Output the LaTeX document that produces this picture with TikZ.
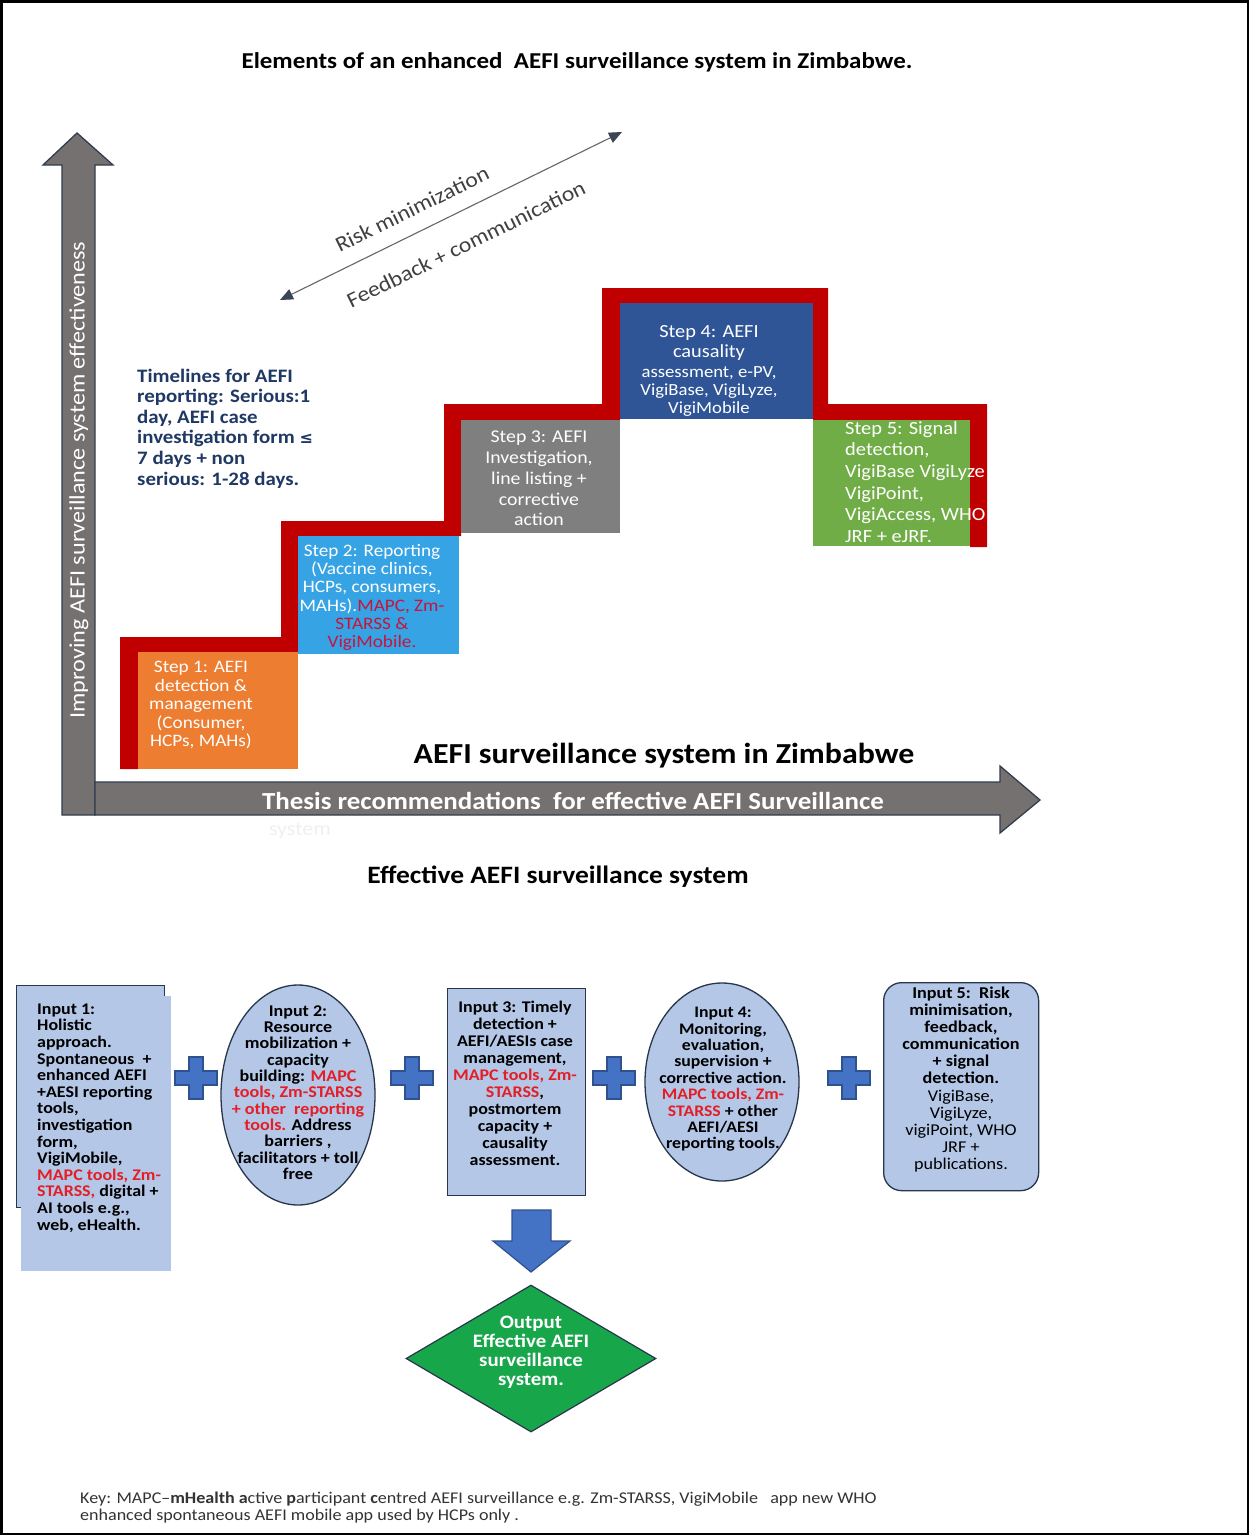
\documentclass[tikz,border=0pt]{standalone}
\usepackage{fontspec}
\setmainfont{Carlito}[FakeStretch=1.1]
\newfontfamily\symfont{DejaVu Sans}
\usetikzlibrary{arrows.meta,shapes.geometric}

\definecolor{axisgray}{HTML}{767171}
\definecolor{axisline}{HTML}{323E4F}
\definecolor{stairred}{HTML}{C00000}
\definecolor{steporange}{HTML}{ED7D31}
\definecolor{stepsky}{HTML}{36A3E4}
\definecolor{stepgray}{HTML}{7F7F7F}
\definecolor{stepnavy}{HTML}{2F5597}
\definecolor{stepgreen}{HTML}{70AD47}
\definecolor{textnavy}{HTML}{1F3864}
\definecolor{inputfill}{HTML}{B4C7E7}
\definecolor{inputline}{HTML}{27364B}
\definecolor{plusfill}{HTML}{4472C4}
\definecolor{plusline}{HTML}{2F528F}
\definecolor{outgreen}{HTML}{17A64A}
\definecolor{hotred}{HTML}{E41E26}
\definecolor{stepredtext}{HTML}{C8143C}
\definecolor{tipnavy}{HTML}{3B4556}
\definecolor{slantgray}{HTML}{404040}

\newcommand\fsz[2]{\fontsize{#1}{#2}\selectfont}
\newcommand\redtxt[1]{\textcolor{hotred}{#1}}
\newcommand\stepredtxt[1]{\textcolor{stepredtext}{#1}}

\begin{document}
\begin{tikzpicture}[x=1pt,y=-1pt,
  steptext/.style={text=white,align=center,inner sep=0},
  inputtext/.style={align=center,inner sep=0,font=\bfseries\fsz{16.5}{16.7}},
  inputbox/.style={fill=inputfill,draw=inputline,line width=1.3},
  blockarrow/.style={fill=plusfill,draw=plusline,line width=1.2},
  plussign/.pic={\path[blockarrow] (-7,-21) -- (7,-21) -- (7,-7) -- (21,-7) -- (21,7) -- (7,7)
      -- (7,21) -- (-7,21) -- (-7,7) -- (-21,7) -- (-21,-7) -- (-7,-7) -- cycle;}
]
\useasboundingbox (0,0) rectangle (1249,1535);
\fill[white] (0,0) rectangle (1249,1535);

% ---------- title ----------
\node[font=\bfseries\fsz{22.7}{26}] (title) at (577,62)
  {Elements of an enhanced\ \ AEFI surveillance system in Zimbabwe.};

% ---------- axes ----------
\path[fill=axisgray,draw=axisline,line width=1.3]
  (62,815) -- (62,165) -- (43,165) -- (77,133) -- (113,165) -- (95,165) -- (95,815) -- cycle;
\path[fill=axisgray,draw=axisline,line width=1.3]
  (95,782) -- (1000,782) -- (1000,766) -- (1040,800) -- (1000,833) -- (1000,815) -- (95,815) -- cycle;
\node[rotate=90,text=white,font=\fsz{22}{24}] (ylabel) at (79,480)
  {Improving AEFI surveillance system effectiveness};
\node[text=white,font=\bfseries\fsz{24.5}{26}] (xlabel) at (573,801)
  {Thesis recommendations\ \ for effective AEFI Surveillance};
\node[text=black!6,font=\fsz{20}{22}] (xlabeltail) at (300,831) {system};
\node[font=\bfseries\fsz{29}{32}] (systemname) at (664,756)
  {AEFI surveillance system in Zimbabwe};

% ---------- feedback arrow ----------
\coordinate (fbstart) at (280,300);
\coordinate (fbend) at (622,132);
\draw[draw=gray!80!black,line width=1.1,
  {Triangle[length=13,width=11,color=tipnavy]}-{Triangle[length=13,width=11,color=tipnavy]}]
  (fbstart) -- (fbend);
\node[rotate=26.2,text=slantgray,font=\fsz{21.5}{24}] (riskmin) at (412,209) {Risk minimization};
\node[rotate=26.2,text=slantgray,font=\fsz{21.5}{24}] (feedback) at (466,244) {Feedback + communication};

% ---------- staircase ----------
\path[fill=stairred]
  (120,769) -- (120,637) -- (281,637) -- (281,521) -- (444,521) -- (444,404)
  -- (602,404) -- (602,288) -- (828,288) -- (828,404) -- (987,404) -- (987,547)
  -- (970,547) -- (970,420) -- (813,420) -- (813,303) -- (620,303) -- (620,420)
  -- (461,420) -- (461,536) -- (298,536) -- (298,652) -- (138,652) -- (138,769) -- cycle;
\fill[steporange] (138,652) rectangle (298,769);
\fill[stepsky] (298,536) rectangle (459,654);
\fill[stepgray] (461,420) rectangle (620,533);
\fill[stepnavy] (620,303) rectangle (813,419);
\fill[stepgreen] (813,420) rectangle (970,546);

\node[steptext,font=\fsz{17.5}{18.5}] (step1) at (201,705.5)
  {Step 1: AEFI\\detection \&\\management\\(Consumer,\\HCPs, MAHs)};
\node[steptext,font=\fsz{17.5}{18.2}] (step2) at (372,597.5)
  {Step 2: Reporting\\(Vaccine clinics,\\HCPs, consumers,\\MAHs).\stepredtxt{MAPC, Zm-}\\
   \stepredtxt{STARSS \&}\\\stepredtxt{VigiMobile.}};
\node[steptext,font=\fsz{18}{20.75}] (step3) at (539,478.5)
  {Step 3: AEFI\\Investigation,\\line listing +\\corrective\\action};
\node[steptext,font=\fsz{18.5}{20}] (step4a) at (709,343)
  {Step 4: AEFI\\causality};
\node[steptext,font=\fsz{17}{18}] (step4b) at (709,391)
  {assessment, e-PV,\\VigiBase, VigiLyze,\\VigiMobile};
\node[steptext,align=left,anchor=west,font=\fsz{18.6}{21.6}] (step5) at (845,482)
  {Step 5: Signal\\detection,\\VigiBase VigiLyze\\VigiPoint,\\VigiAccess, WHO\\JRF + eJRF.};

\node[align=left,anchor=west,inner sep=0,text=textnavy,font=\bfseries\fsz{19}{20.6}] (timelines) at (137,428.5)
  {Timelines for AEFI\\reporting: Serious:1\\day, AEFI case\\investigation form {\symfont\fsz{16}{20.6}≤}\\7 days + non\\serious: 1-28 days.};

% ---------- inputs ----------
\node[font=\bfseries\fsz{25}{28}] (effective) at (558,877) {Effective AEFI surveillance system};

\node[inputbox,minimum width=148,minimum height=222,inner sep=0,anchor=north west] (in1back) at (16,985) {};
\fill[inputfill] (21,996) rectangle (171,1271);
\node[align=left,anchor=west,inner sep=0,font=\bfseries\fsz{16.3}{16.6}] (in1) at (37,1118)
  {Input 1:\\Holistic\\approach.\\Spontaneous\ \ +\\enhanced AEFI\\+AESI reporting\\tools,\\
   investigation\\form,\\VigiMobile,\\\redtxt{MAPC tools, Zm-}\\\redtxt{STARSS,} digital +\\
   AI tools e.g.,\\web, eHealth.};

\node[inputbox,ellipse,minimum width=154,minimum height=220,inner sep=0] (in2shape) at (298,1095) {};
\node[inputtext,font=\bfseries\fsz{16.4}{16.3}] (in2) at (298,1092.5)
  {Input 2:\\Resource\\mobilization +\\capacity\\building: \redtxt{MAPC}\\\redtxt{tools, Zm-STARSS}\\
   \redtxt{+ other\ \ reporting}\\\redtxt{tools.} Address\\barriers ,\\facilitators + toll\\free};

\node[inputbox,minimum width=138,minimum height=207,inner sep=0,anchor=north west] (in3shape) at (447,988) {};
\node[inputtext,font=\bfseries\fsz{16.3}{17}] (in3) at (515,1083.5)
  {Input 3: Timely\\detection +\\AEFI/AESIs case\\management,\\\redtxt{MAPC tools, Zm-}\\
   \redtxt{STARSS},\\postmortem\\capacity +\\causality\\assessment.};

\node[inputbox,ellipse,minimum width=154,minimum height=198,inner sep=0] (in4shape) at (722,1082) {};
\node[inputtext,font=\bfseries\fsz{16.1}{16.4}] (in4) at (723,1079.5)
  {Input 4:\\Monitoring,\\evaluation,\\supervision +\\corrective action.\\
   \redtxt{MAPC tools, Zm-}\\\redtxt{STARSS} + other\\AEFI/AESI\\reporting tools.};

\node[inputbox,rounded corners=18,minimum width=155,minimum height=208,inner sep=0,anchor=north west] (in5shape) at (883,982) {};
\node[inputtext,font=\fsz{16.5}{17.1}] (in5) at (961,1079.5)
  {\textbf{Input 5:\ \ Risk}\\\textbf{minimisation,}\\\textbf{feedback,}\\\textbf{communication}\\
   \textbf{+ signal}\\\textbf{detection.}\\VigiBase,\\VigiLyze,\\vigiPoint, WHO\\JRF +\\publications.};

\pic (plus1) at (196,1078) {plussign};
\pic (plus2) at (412,1078) {plussign};
\pic (plus3) at (614,1078) {plussign};
\pic (plus4) at (849,1078) {plussign};

% ---------- output ----------
\path[blockarrow] (512,1210) -- (551,1210) -- (551,1241) -- (570,1241) -- (531,1272)
  -- (493,1241) -- (512,1241) -- cycle;
\node[diamond,fill=outgreen,draw=inputline,line width=1.2,minimum width=250,minimum height=147,
  inner sep=0,aspect=1.7] (output) at (531,1358.5) {};
\node[steptext,font=\bfseries\fsz{19}{19}] (outtext) at (531,1352.5)
  {Output\\Effective AEFI\\surveillance\\system.};

% ---------- key ----------
\node[align=left,anchor=north west,inner sep=0,text=black!80,font=\fsz{16.4}{17}] (key) at (80,1492)
  {Key: MAPC--\textbf{mHealth a}ctive \textbf{p}articipant \textbf{c}entred AEFI surveillance e.g. Zm-STARSS, VigiMobile\ \ \ app new WHO\\
   enhanced spontaneous AEFI mobile app used by HCPs only .};

% ---------- frame ----------
\draw[line width=2.5] (1.25,1.25) rectangle (1247.75,1533.75);
\end{tikzpicture}
\end{document}
